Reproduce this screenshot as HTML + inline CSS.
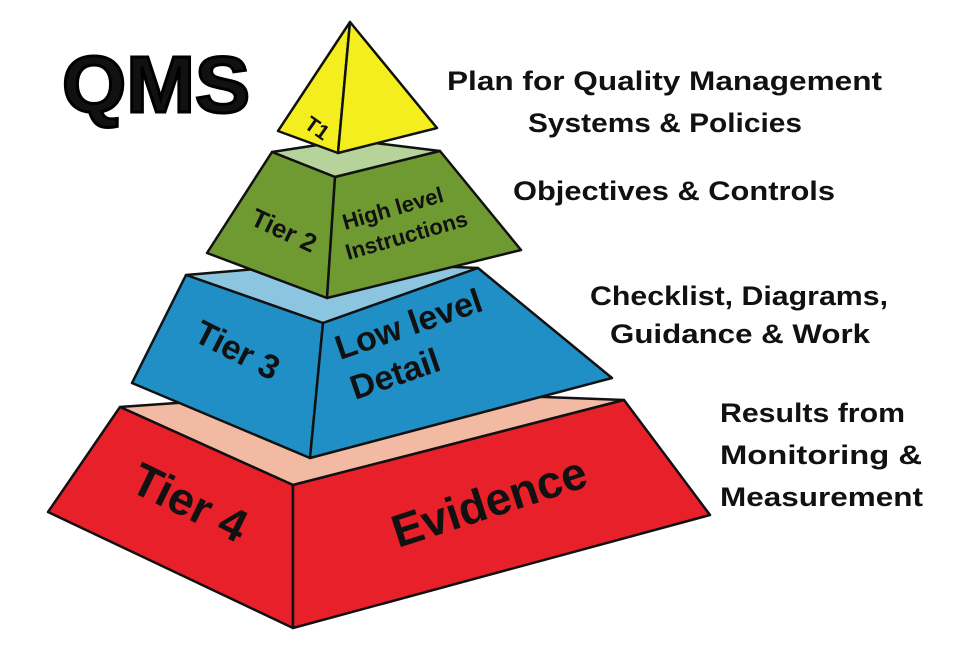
<!DOCTYPE html>
<html><head><meta charset="utf-8"><style>
html,body{margin:0;padding:0;background:#fff;width:960px;height:650px;overflow:hidden}
svg{display:block}
text{font-family:"Liberation Sans",sans-serif;font-weight:bold;fill:#111}
</style></head><body>
<svg width="960" height="650" viewBox="0 0 960 650" xmlns="http://www.w3.org/2000/svg">
<g stroke="#111" stroke-width="2.5" stroke-linejoin="round">
<polygon points="120,407 360,390 624,400 293,485" fill="#f2b9a3"/>
<polygon points="120,407 293,485 293,628 48,512" fill="#e8202a"/>
<polygon points="293,485 624,400 710,515 293,628" fill="#e8202a"/>
<polygon points="186,275 340,262 478,268 323,323" fill="#8cc5e0"/>
<polygon points="186,275 323,323 310,458 132,383" fill="#1f8fc6"/>
<polygon points="323,323 478,268 612,378 310,458" fill="#1f8fc6"/>
<polygon points="272,152 350,140 440,151 335,177" fill="#b5d39a"/>
<polygon points="272,152 335,177 327,298 207,253" fill="#6f9a32"/>
<polygon points="335,177 440,151 521,250 327,298" fill="#6f9a32"/>
<polygon points="350,22 278,131 338,153" fill="#f5ee1e"/>
<polygon points="350,22 338,153 437,128" fill="#f5ee1e"/>
</g>
<text x="62" y="112" font-size="80" stroke="#000" stroke-width="3" textLength="188" lengthAdjust="spacingAndGlyphs">QMS</text>

<text transform="translate(303,127) rotate(35)" font-size="21">T1</text>
<text transform="translate(249,224) rotate(25)" font-size="26">Tier 2</text>
<text transform="translate(345,230) rotate(-16)" font-size="22">High level</text>
<text transform="translate(348,260) rotate(-16)" font-size="22">Instructions</text>
<text transform="translate(192,340) rotate(27)" font-size="34">Tier 3</text>
<text transform="translate(340,360) rotate(-19)" font-size="34">Low level</text>
<text transform="translate(355,400) rotate(-19)" font-size="34">Detail</text>
<text transform="translate(128,490) rotate(26)" font-size="46">Tier 4</text>
<text transform="translate(398,548) rotate(-18)" font-size="46">Evidence</text>

<text x="447" y="90" font-size="27" textLength="435" lengthAdjust="spacingAndGlyphs">Plan for Quality Management</text>
<text x="528" y="132" font-size="27" textLength="274" lengthAdjust="spacingAndGlyphs">Systems &amp; Policies</text>
<text x="513" y="200" font-size="27" textLength="322" lengthAdjust="spacingAndGlyphs">Objectives &amp; Controls</text>
<text x="590" y="305" font-size="27" textLength="298" lengthAdjust="spacingAndGlyphs">Checklist, Diagrams,</text>
<text x="610" y="343" font-size="27" textLength="260" lengthAdjust="spacingAndGlyphs">Guidance &amp; Work</text>
<text x="720" y="422" font-size="27" textLength="185" lengthAdjust="spacingAndGlyphs">Results from</text>
<text x="720" y="464" font-size="27" textLength="202" lengthAdjust="spacingAndGlyphs">Monitoring &amp;</text>
<text x="720" y="506" font-size="27" textLength="203" lengthAdjust="spacingAndGlyphs">Measurement</text>
</svg>
</body></html>
